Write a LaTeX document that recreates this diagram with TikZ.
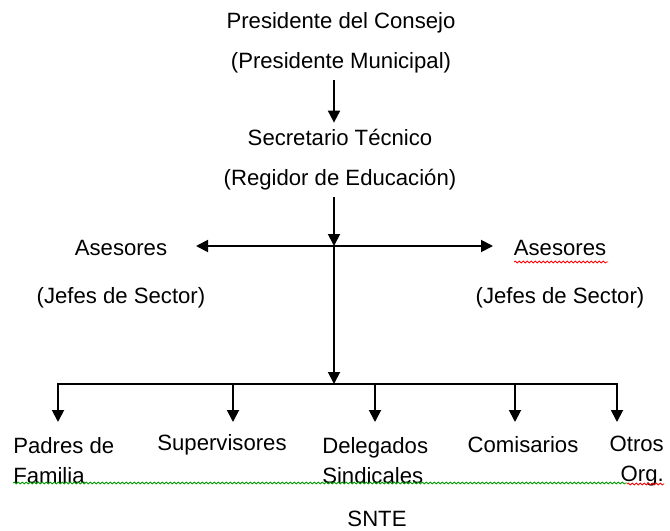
\documentclass[tikz,border=0pt]{standalone}
\usepackage{fontspec}
\setmainfont{Liberation Sans}
\usetikzlibrary{arrows.meta,positioning,decorations.pathmorphing}

\begin{document}
\begin{tikzpicture}[x=0.75pt,y=-0.75pt,
    lbl/.style={inner xsep=0pt,inner ysep=5pt,align=center,font=\fontsize{16.6}{30}\selectfont},
    flecha/.style={line width=1.4pt,-{Triangle[length=9pt,width=9pt]}},
    barra/.style={line width=1.4pt,line cap=rect},
    ondita/.style={decorate,decoration={snake,amplitude=0.7pt,segment length=3pt},line width=0.6pt}]
    \useasboundingbox (0,0) rectangle (670,531);

    \node[lbl] (pres) at (341,43) {Presidente del Consejo\\(Presidente Municipal)};
    \node[lbl] (secr) at (340,160) {Secretario Técnico\\(Regidor de Educación)};
    \node[lbl,font=\fontsize{16.6}{36}\selectfont] (ases1) at (121,274) {Asesores\\(Jefes de Sector)};
    \node[lbl,font=\fontsize{16.6}{36}\selectfont] (ases2) at (560,274) {Asesores\\(Jefes de Sector)};

    \coordinate (cruce) at (334,246);
    \coordinate (izq) at (196,246);
    \coordinate (der) at (493,246);
    \coordinate (baja) at (334,384);

    \draw[flecha] (pres.south -| cruce) -- (secr.north -| cruce);
    \draw[flecha] (secr.south -| cruce) -- (cruce);
    \draw[flecha] (cruce) -- (izq);
    \draw[flecha] (cruce) -- (der);
    \draw[flecha] (cruce) -- (baja);

    \node[lbl,font=\fontsize{16.6}{22.5}\selectfont,align=left,anchor=west] (padres) at (13,461) {Padres de\\Familia};
    \node[lbl] (superv) at (222,445) {Supervisores};
    \node[lbl,font=\fontsize{16.6}{22.5}\selectfont,align=left,anchor=west] (deleg) at (322,461) {Delegados\\Sindicales};
    \node[lbl] (comis) at (523,445) {Comisarios};
    \node[lbl,font=\fontsize{16.6}{22.5}\selectfont,align=right,anchor=east] (otros) at (664,461) {Otros\\Org.};
    \node[lbl] (snte) at (377,519) {SNTE};

    \foreach \n/\x in {padres/58,superv/233,deleg/375,comis/515,otros/617}
    {
        \coordinate (r\n) at (\x,384);
        \coordinate (p\n) at (\x,422);
        \draw[flecha] (r\n) -- (p\n);
    };
    \draw[barra] (rpadres) -- (rotros);

    \draw[ondita,green!60!black] (13,483) -- (627,483);
    \draw[ondita,red] (627,484) -- (664,484);
    \draw[ondita,red] (514,262) -- (608,262);
\end{tikzpicture}
\end{document}
